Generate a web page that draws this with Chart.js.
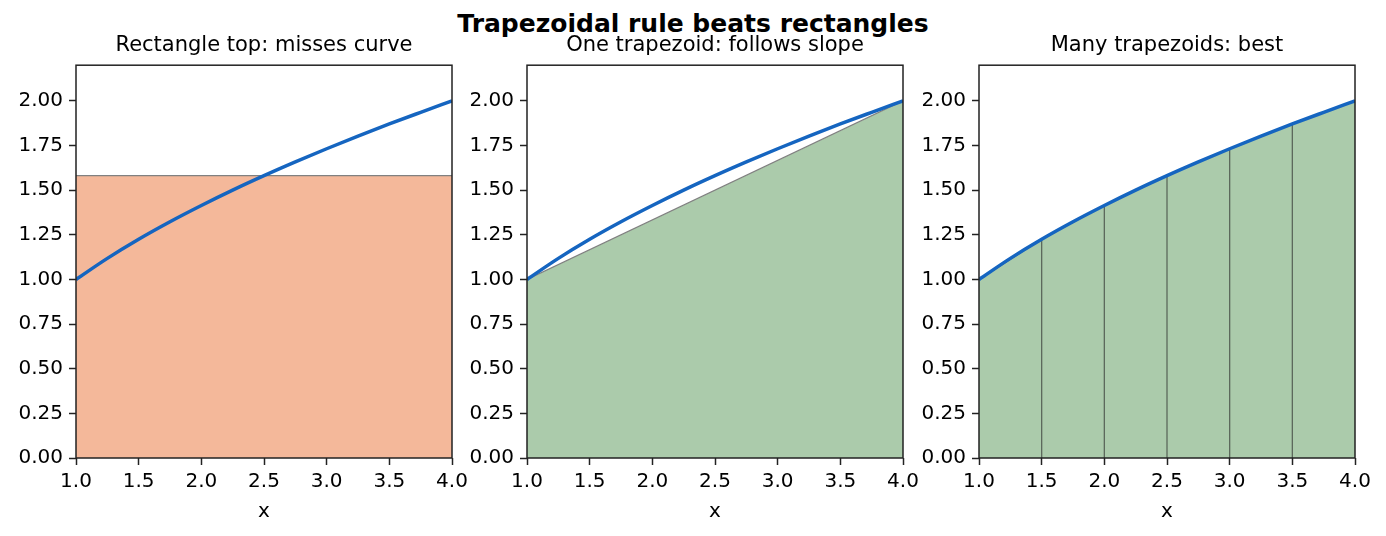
<!DOCTYPE html>
<html>
<head>
<meta charset="utf-8">
<script src="https://cdn.jsdelivr.net/npm/chart.js@4"></script>
<style>
  body { margin: 0; background: #fff; width: 1386px; height: 536px; position: relative; overflow: hidden; font-family: "DejaVu Sans", sans-serif; }
  #title { position: absolute; left: 0; width: 1386px; top: 9px; text-align: center; font-weight: bold; font-size: 25px; line-height: 30px; color: #000; }
  canvas { position: absolute; top: 0; }
</style>
</head>
<body>
<div id="title">Trapezoidal rule beats rectangles</div>
<canvas id="c0" width="528" height="536" style="left:0px"></canvas>
<canvas id="c1" width="528" height="536" style="left:451px"></canvas>
<canvas id="c2" width="528" height="536" style="left:903px"></canvas>
<script>
// curve
const curveX = [1.0, 1.25, 1.5, 1.75, 2.0, 2.25, 2.5, 2.75, 3.0, 3.25, 3.5, 3.75, 4.0];
const curveY = [1.000, 1.118, 1.225, 1.323, 1.414, 1.500, 1.581, 1.658, 1.732, 1.803, 1.871, 1.936, 2.000];

// panel 1: one rectangle
const rectX = [1.0, 4.0];
const rectY = [1.581, 1.581];

// panel 2: one trapezoid
const trapX = [1.0, 4.0];
const trapY = [1.00, 2.00];

// panel 3: many trapezoids
const nodeX = [1.0, 1.5, 2.0, 2.5, 3.0, 3.5, 4.0];
const nodeY = [1.000, 1.225, 1.414, 1.581, 1.732, 1.871, 2.000];

const xTicks = [1.0, 1.5, 2.0, 2.5, 3.0, 3.5, 4.0];
const yTicks = [0, 0.25, 0.5, 0.75, 1.0, 1.25, 1.5, 1.75, 2.0];
const panelTitles = ['Rectangle top: misses curve', 'One trapezoid: follows slope', 'Many trapezoids: best'];

const FONT = '"DejaVu Sans", sans-serif';
const pts = (xs, ys) => xs.map((x, i) => ({ x: x, y: ys[i] }));

// axes frame (all four spines)
const framePlugin = {
  id: 'frame',
  afterDraw(chart) {
    const a = chart.chartArea, ctx = chart.ctx;
    ctx.save();
    ctx.strokeStyle = '#222';
    ctx.lineWidth = 1.5;
    ctx.strokeRect(a.left, a.top, a.right - a.left, a.bottom - a.top);
    ctx.restore();
  }
};

function curveSet() {
  return {
    data: pts(curveX, curveY), borderColor: '#1565c0', borderWidth: 3.5,
    pointRadius: 0, cubicInterpolationMode: 'monotone', fill: false, order: 0
  };
}

function makeChart(id, title, sets) {
  new Chart(document.getElementById(id), {
    type: 'line',
    data: { datasets: sets },
    plugins: [framePlugin],
    options: {
      responsive: false, animation: false,
      layout: { padding: { left: 0, right: 76, top: 0, bottom: 0 } },
      plugins: {
        legend: { display: false }, tooltip: { enabled: false },
        title: {
          display: true, text: title, color: '#000', fullSize: false,
          font: { family: FONT, size: 21, weight: 'normal', lineHeight: 1.2 },
          padding: { top: 33, bottom: 7 }
        }
      },
      scales: {
        x: {
          type: 'linear', min: 1, max: 4,
          afterBuildTicks: s => { s.ticks = xTicks.map(v => ({ value: v })); },
          afterFit: s => { s.height = 78; },
          ticks: { color: '#000', font: { family: FONT, size: 20 }, padding: 5, maxRotation: 0, autoSkip: false,
                   callback: v => v.toFixed(1) },
          grid: { drawOnChartArea: false, drawTicks: true, tickLength: 7, color: '#222', tickWidth: 1.5 },
          border: { display: false },
          title: { display: true, text: 'x', color: '#000', font: { family: FONT, size: 20 }, padding: { top: 0, bottom: 12 } }
        },
        y: {
          type: 'linear', min: 0, max: 2.2,
          afterBuildTicks: s => { s.ticks = yTicks.map(v => ({ value: v })); },
          afterFit: s => { s.width = 76; },
          ticks: { color: '#000', font: { family: FONT, size: 20 }, padding: 6, autoSkip: false,
                   callback: v => v.toFixed(2) },
          grid: { drawOnChartArea: false, drawTicks: true, tickLength: 7, color: '#222', tickWidth: 1.5 },
          border: { display: false }
        }
      }
    }
  });
}

// panel 1
makeChart('c0', panelTitles[0], [
  curveSet(),
  { data: pts(rectX, rectY), borderColor: '#808080', borderWidth: 1.2, pointRadius: 0,
    fill: 'origin', backgroundColor: '#f4b89a', order: 1 }
]);

// panel 2
makeChart('c1', panelTitles[1], [
  curveSet(),
  { data: pts(trapX, trapY), borderColor: '#808080', borderWidth: 1.2, pointRadius: 0,
    fill: 'origin', backgroundColor: '#abcbab', order: 1 }
]);

// panel 3: vertical edges at the interior nodes
const edges = [];
nodeX.forEach((x, i) => {
  if (i === 0 || i === nodeX.length - 1) return;
  edges.push({ x: x, y: 0 }, { x: x, y: nodeY[i] }, { x: x, y: null });
});
makeChart('c2', panelTitles[2], [
  curveSet(),
  { data: edges, borderColor: 'rgba(40,40,40,0.6)', borderWidth: 1.3, pointRadius: 0,
    fill: false, spanGaps: false, order: 1 },
  { data: pts(nodeX, nodeY), borderColor: 'rgba(40,40,40,0.6)', borderWidth: 1.2, pointRadius: 0,
    fill: 'origin', backgroundColor: '#abcbab', order: 2 }
]);
</script>
</body>
</html>
